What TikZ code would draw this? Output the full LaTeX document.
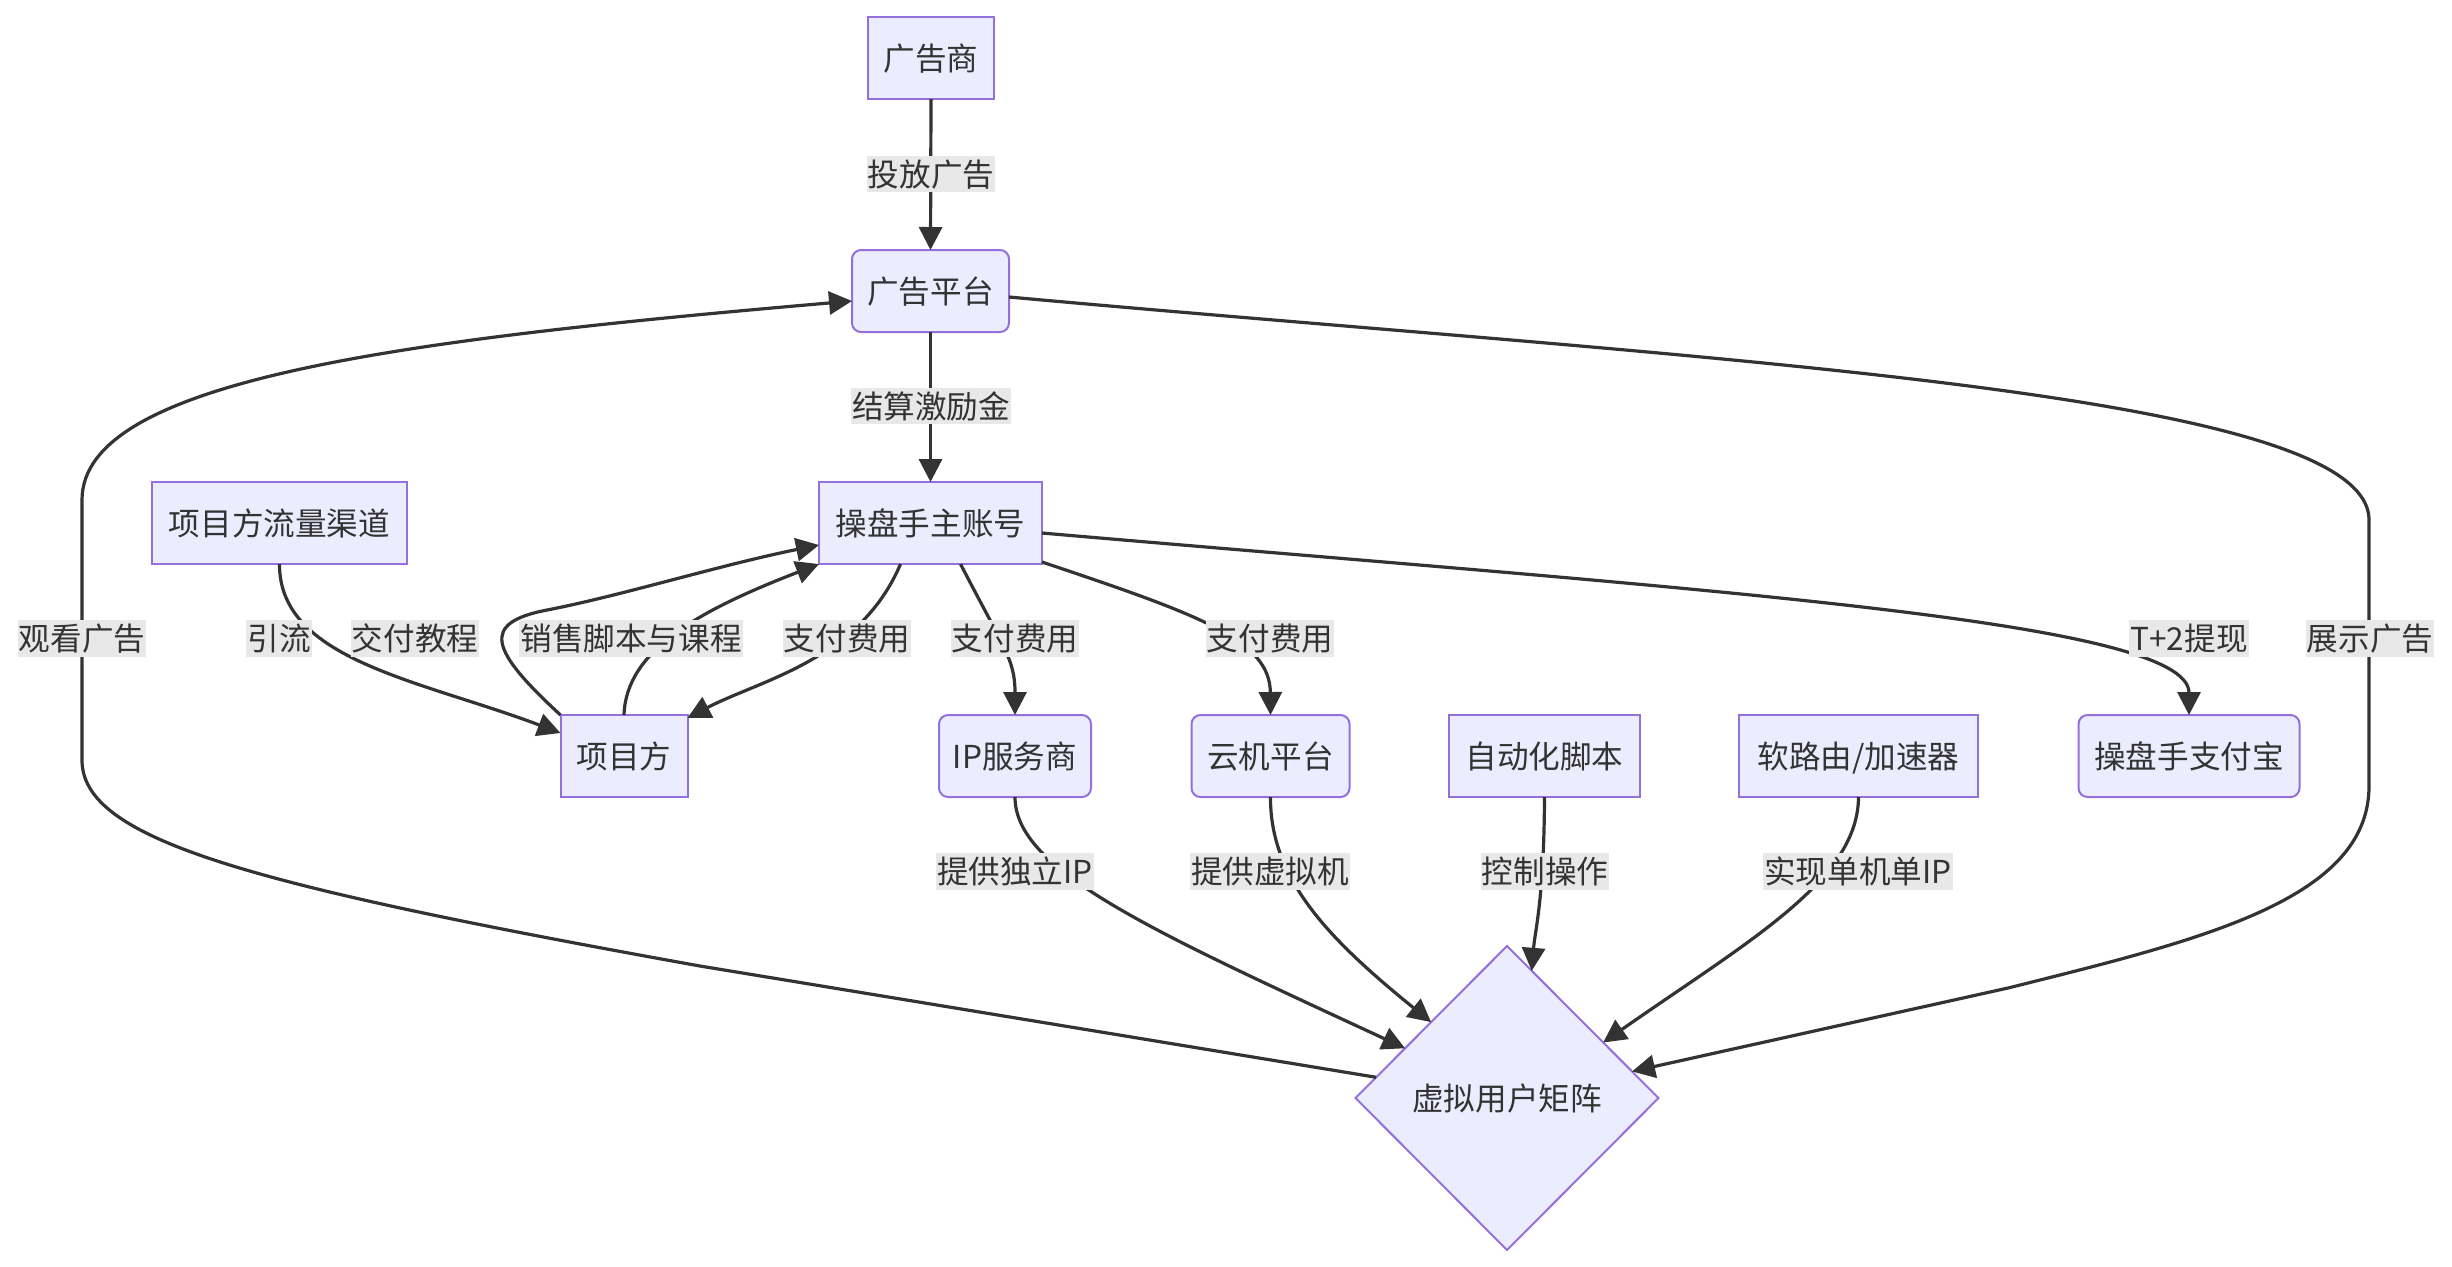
\documentclass[tikz,border=0pt]{standalone}
\usepackage{fontspec}
\setmainfont{Noto Sans CJK SC}
\usetikzlibrary{arrows.meta,shapes.geometric}
\definecolor{nfill}{HTML}{ECECFF}
\definecolor{nborder}{HTML}{9370DB}
\definecolor{ink}{HTML}{333333}
\definecolor{lfill}{HTML}{E8E8E8}
\newcommand{\mainfs}{\fontsize{15.8pt}{19pt}\selectfont}
\tikzset{
  box/.style={draw=nborder, fill=nfill, line width=1pt, minimum height=41pt, inner sep=0pt, outer sep=0pt,
    text=ink, font=\mainfs, text height=13.9pt, text depth=1.9pt},
  rbox/.style={box, rounded corners=4.5pt},
  dia/.style={shape=diamond, draw=nborder, fill=nfill, line width=1pt, minimum width=151.5pt, minimum height=152pt,
    inner sep=0pt, outer sep=0pt, text=ink, font=\mainfs, text height=13.9pt, text depth=1.9pt},
  lbl/.style={fill=lfill, text=ink, font=\mainfs, inner xsep=0.5pt, inner ysep=1.3pt, text height=13.9pt, text depth=1.9pt},
  conn/.style={draw=ink, line width=1.6pt, -{Triangle[length=11.5pt,width=11.5pt]}},
}
\begin{document}
\begin{tikzpicture}[x=0.5pt,y=-0.5pt]
\fill[white] (0,0) rectangle (2452,1266);
\useasboundingbox (0,0) rectangle (2452,1266);

% nodes
\node[box, minimum width=63pt] (adv) at (931,58) {广告商};
\node[rbox, minimum width=78.5pt] (plat) at (930.5,291) {广告平台};
\node[box, minimum width=111.5pt] (main) at (930.5,523) {操盘手主账号};
\node[box, minimum width=127.5pt] (chan) at (279.5,523) {项目方流量渠道};
\node[box, minimum width=63.5pt] (proj) at (624,756) {项目方};
\node[rbox, minimum width=76pt] (ip) at (1015,756) {IP服务商};
\node[rbox, minimum width=79pt] (cloud) at (1270.5,756) {云机平台};
\node[box, minimum width=95.5pt] (auto) at (1544.5,756) {自动化脚本};
\node[box, minimum width=119.5pt] (router) at (1858.5,756) {软路由/加速器};
\node[rbox, minimum width=110.5pt] (alipay) at (2189,756) {操盘手支付宝};
\node[dia] (matrix) at (1507,1098) {虚拟用户矩阵};

% connectors
\draw[conn] (adv.south) -- (plat.north);
\draw[conn] (plat.south) -- (main.north);
\draw[conn] ([yshift=-3pt]plat.east) .. controls (1700,360) and (2369,390) .. (2369,520)
  -- (2369,786) .. controls (2369,900) and (2200,940) .. (2008,988) -- (matrix.12);
\draw[conn] (matrix.171) -- (700,966) .. controls (250,885) and (82,840) .. (82,760)
  -- (82,500) .. controls (82,380) and (400,340) .. ([yshift=-5pt]plat.west);
\draw[conn] ([yshift=-5pt]main.east) .. controls (1700,590) and (2189,620) .. (alipay.north);
\draw[conn] ([yshift=1pt]main.south east) .. controls (1200,615) and (1270,640) .. (cloud.north);
\draw[conn] ([xshift=15pt]main.south) .. controls (1005,650) and (1015,660) .. (ip.north);
\draw[conn] ([xshift=-15pt]main.south) .. controls (860,660) and (760,680) .. ([yshift=-1.5pt]proj.north east);
\draw[conn] (proj.north west) .. controls (490,650) and (480,623) .. (547,610)
  .. controls (620,596) and (720,565) .. ([yshift=-11pt]main.west);
\draw[conn] (proj.north) .. controls (626,650) and (700,610) .. (main.south west);
\draw[conn] (chan.south) .. controls (279,660) and (420,680) .. ([yshift=11.5pt]proj.west);
\draw[conn] (ip.south) .. controls (1015,870) and (1150,930) .. (matrix.154);
\draw[conn] (cloud.south) .. controls (1270,880) and (1330,940) .. (matrix.135);
\draw[conn] (auto.south) .. controls (1544,900) and (1535,930) .. (matrix.79);
\draw[conn] (router.south) .. controls (1858,880) and (1750,940) .. (matrix.30);

% labels
\node[lbl] (l1) at (931,174) {投放广告};
\node[lbl] (l2) at (931,406) {结算激励金};
\node[lbl] (l3) at (82,638.5) {观看广告};
\node[lbl] (l4) at (279,638.5) {引流};
\node[lbl] (l5) at (415,638.5) {交付教程};
\node[lbl] (l6) at (631,638.5) {销售脚本与课程};
\node[lbl] (l7) at (847,638.5) {支付费用};
\node[lbl] (l8) at (1015,638.5) {支付费用};
\node[lbl] (l9) at (1270,638.5) {支付费用};
\node[lbl] (l10) at (2189,638.5) {T+2提现};
\node[lbl] (l11) at (2370,638.5) {展示广告};
\node[lbl] (l12) at (1015,871.5) {提供独立IP};
\node[lbl] (l13) at (1270,871.5) {提供虚拟机};
\node[lbl] (l14) at (1545,871.5) {控制操作};
\node[lbl] (l15) at (1858,871.5) {实现单机单IP};
\end{tikzpicture}
\end{document}
